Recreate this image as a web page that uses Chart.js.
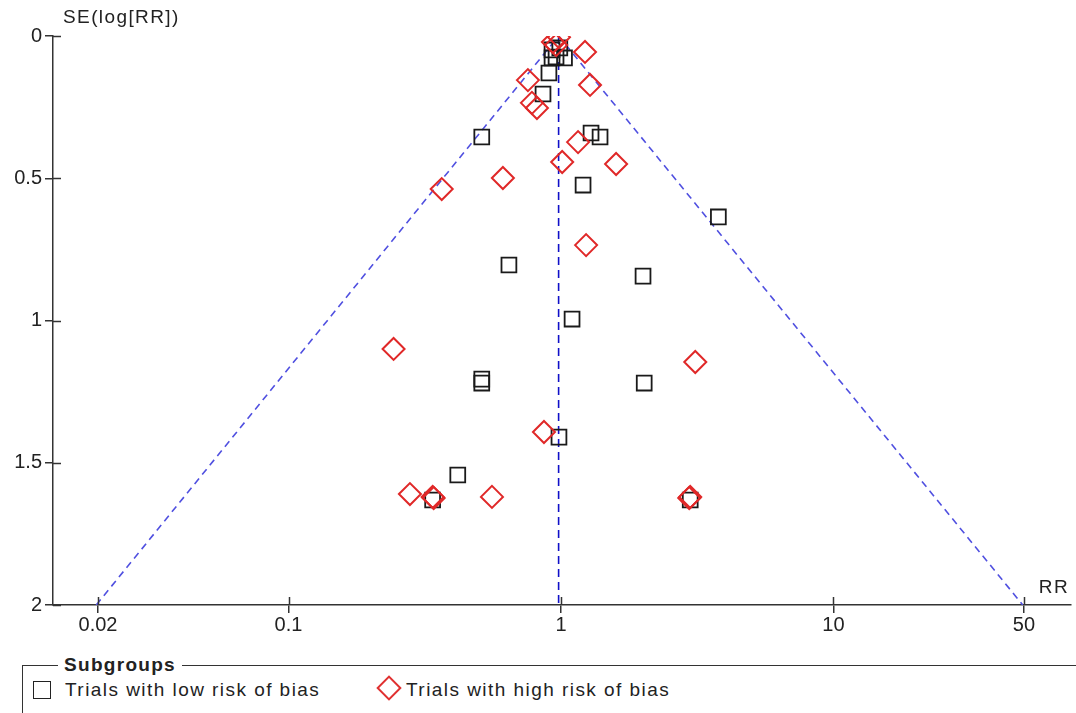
<!DOCTYPE html>
<html>
<head>
<meta charset="utf-8">
<script src="https://cdn.jsdelivr.net/npm/chart.js@4.4.1/dist/chart.umd.min.js"></script>
<style>
  body { margin: 0; background: #fff; font-family: "Liberation Sans", Arial, sans-serif; color: #222; }
  #wrap { position: relative; width: 1076px; height: 713px; overflow: hidden; }
  #funnel { position: absolute; left: 0; top: 0; }
  .box { position: absolute; left: 22px; top: 665px; width: 1200px; height: 100px; border-top: 1.5px solid #333; border-left: 1.5px solid #333; }
  .box .title { position: absolute; left: 35px; top: -12px; background: #fff; padding: 0 6px; font-weight: bold; font-size: 19px; line-height: 22px; letter-spacing: 1.3px; }
  .item { position: absolute; top: 13px; font-size: 19px; line-height: 22px; white-space: nowrap; letter-spacing: 1.45px; }
  .sq { display: inline-block; width: 16px; height: 16px; border: 1.5px solid #222; vertical-align: -3px; margin-right: 14px; }
  .dm { display: inline-block; width: 14px; height: 14px; border: 2px solid #e03030; transform: rotate(45deg); vertical-align: -1px; margin: 0 8px 0 5px; }
</style>
</head>
<body>
<div id="wrap">
  <canvas id="funnel" width="1076" height="650"></canvas>
  <div class="box">
    <span class="title">Subgroups</span>
    <span class="item" style="left:10px"><span class="sq"></span>Trials with low risk of bias</span>
    <span class="item" style="left:352px"><span class="dm"></span>Trials with high risk of bias</span>
  </div>
</div>
<script>
'use strict';

// trials with low risk of bias
let lowRR = [0.927, 0.99, 1.03, 0.927, 0.959, 0.903, 0.859, 0.512, 1.289, 1.391, 1.205,
  3.78, 0.644, 2.0, 1.098, 0.512, 0.512, 2.02, 0.983, 0.418, 0.338, 2.98];
let lowSE = [0.049, 0.042, 0.077, 0.077, 0.074, 0.13, 0.204, 0.355, 0.341, 0.355, 0.524,
  0.636, 0.805, 0.844, 0.995, 1.206, 1.22, 1.22, 1.41, 1.543, 1.631, 1.631];

// trials with high risk of bias
let highRR = [0.983, 0.934, 0.96, 1.225, 0.756, 1.278, 0.782, 0.816, 1.155, 1.01, 1.593,
  0.612, 0.365, 1.236, 0.243, 3.11, 0.866, 0.279, 0.341, 0.338, 0.558, 2.955, 2.98];
let highSE = [0.004, 0.021, 0.032, 0.056, 0.155, 0.172, 0.235, 0.253, 0.373, 0.443, 0.45,
  0.499, 0.538, 0.735, 1.10, 1.146, 1.392, 1.61, 1.624, 1.62, 1.62, 1.624, 1.62];

// funnel outline and pooled estimate
let funnelRR = [0.0197, 0.98, 49.5];
let funnelSE = [2, 0, 2];
let pooledRR = [0.98, 0.98];
let pooledSE = [0, 2];

let xTicks = [0.02, 0.1, 1, 10, 50];
let xTickLabels = ['0.02', '0.1', '1', '10', '50'];
let yTicks = [0, 0.5, 1, 1.5, 2];

function toPoints(xs, ys) {
    return xs.map((v, i) => ({ x: v, y: ys[i] }));
}

const extras = {
    id: 'extras',
    afterDraw(chart) {
        const { ctx, chartArea: a, scales: { x, y } } = chart;
        ctx.save();
        ctx.strokeStyle = '#333';
        ctx.lineWidth = 1.5;
        // inner half of tick marks
        x.ticks.forEach(t => {
            let px = Math.round(x.getPixelForValue(t.value)) + 0.5;
            ctx.beginPath(); ctx.moveTo(px, a.bottom); ctx.lineTo(px, a.bottom - 8); ctx.stroke();
        });
        y.ticks.forEach(t => {
            let py = Math.round(y.getPixelForValue(t.value)) + 0.5;
            ctx.beginPath(); ctx.moveTo(a.left, py); ctx.lineTo(a.left + 8, py); ctx.stroke();
        });
        ctx.fillStyle = '#222';
        ctx.font = '19px "Liberation Sans", Arial, sans-serif';
        ctx.letterSpacing = '1.4px';
        ctx.textBaseline = 'middle';
        ctx.fillText('SE(log[RR])', a.left + 10, a.top - 18);
        ctx.textAlign = 'right';
        ctx.fillText('RR', a.right - 2, a.bottom - 17);
        ctx.restore();
    }
};

let ctx = document.getElementById('funnel').getContext('2d');

let funnelChart = new Chart(ctx, {
    type: 'scatter',
    data: {
        datasets: [
            {
                label: 'Trials with high risk of bias',
                data: toPoints(highRR, highSE),
                pointStyle: 'rectRot',
                pointRadius: 11,
                pointBackgroundColor: 'rgba(0,0,0,0)',
                pointBorderColor: '#e02828',
                pointBorderWidth: 2,
                order: 0
            },
            {
                label: 'Trials with low risk of bias',
                data: toPoints(lowRR, lowSE),
                pointStyle: 'rect',
                pointRadius: 10.5,
                pointBackgroundColor: 'rgba(0,0,0,0)',
                pointBorderColor: '#1a1a1a',
                pointBorderWidth: 1.8,
                order: 1
            },
            {
                type: 'line',
                label: 'funnel',
                data: toPoints(funnelRR, funnelSE),
                borderColor: '#5050e0',
                borderWidth: 1.6,
                borderDash: [7, 5],
                pointRadius: 0,
                fill: false,
                order: 2
            },
            {
                type: 'line',
                label: 'pooled',
                data: toPoints(pooledRR, pooledSE),
                borderColor: '#1010c8',
                borderWidth: 1.6,
                borderDash: [8, 5],
                pointRadius: 0,
                fill: false,
                order: 2
            }
        ]
    },
    options: {
        responsive: false,
        animation: false,
        devicePixelRatio: 1,
        layout: { autoPadding: false, padding: { top: 36, right: 5, left: 0, bottom: 0 } },
        plugins: {
            legend: { display: false },
            tooltip: { enabled: false }
        },
        scales: {
            x: {
                type: 'logarithmic',
                min: 0.01367,
                max: 74.4,
                afterBuildTicks: s => { s.ticks = xTicks.map(v => ({ value: v })); },
                afterFit: s => { s.height = 45; s.paddingLeft = 0; s.paddingRight = 0; },
                ticks: {
                    callback: (v, i) => xTickLabels[i],
                    color: '#222',
                    font: { family: '"Liberation Sans", Arial, sans-serif', size: 20 },
                    padding: 0,
                    maxRotation: 0,
                    autoSkip: false
                },
                grid: { drawOnChartArea: false, tickLength: 8, color: '#333', lineWidth: 1.5 },
                border: { color: '#333', width: 1.5 }
            },
            y: {
                type: 'linear',
                min: 0,
                max: 2,
                reverse: true,
                afterBuildTicks: s => { s.ticks = yTicks.map(v => ({ value: v })); },
                afterFit: s => { s.width = 53; s.paddingTop = 0; s.paddingBottom = 0; },
                ticks: {
                    callback: v => String(v),
                    color: '#222',
                    font: { family: '"Liberation Sans", Arial, sans-serif', size: 20 },
                    padding: 3
                },
                grid: { drawOnChartArea: false, tickLength: 8, color: '#333', lineWidth: 1.5 },
                border: { color: '#333', width: 1.5 }
            }
        }
    },
    plugins: [extras]
});
</script>
</body>
</html>
